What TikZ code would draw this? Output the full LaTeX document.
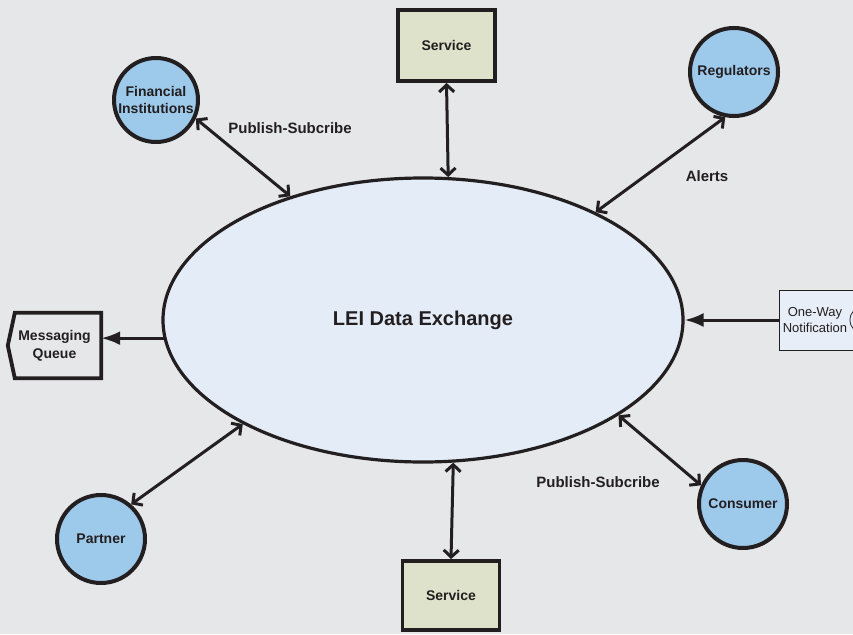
\documentclass[tikz,border=0pt]{standalone}
\usepackage{fontspec}
\setmainfont{Liberation Sans}
\usetikzlibrary{arrows.meta,positioning,shapes,calc}
\definecolor{bggrey}{HTML}{E6E7E8}
\definecolor{inkc}{HTML}{231F20}
\definecolor{hubfill}{HTML}{E4ECF7}
\definecolor{partyfill}{HTML}{9DC9EB}
\definecolor{svcfill}{HTML}{DEE2CA}
\definecolor{owfill}{HTML}{E8EEF8}
\tikzset{
	hub/.style = {ellipse, draw=inkc, line width=3.2pt, fill=hubfill, minimum width=520pt, minimum height=284pt, inner sep=0pt, text=inkc, font=\bfseries\fontsize{20}{24}\selectfont}, % the big oval in the middle
	party/.style = {circle, draw=inkc, line width=4pt, fill=partyfill, inner sep=0pt, minimum size=88pt, align=center, text=inkc, font=\bfseries\fontsize{14}{17}\selectfont},
	svc/.style = {rectangle, draw=inkc, line width=3.8pt, fill=svcfill, minimum width=97pt, minimum height=71pt, text=inkc, font=\bfseries\fontsize{14}{17}\selectfont},
	queue/.style = {rectangle, inner sep=0pt, minimum width=93pt, minimum height=65pt, align=center, text=inkc, font=\bfseries\fontsize{14}{18}\selectfont},
	owbox/.style = {rectangle, draw=inkc, line width=0.8pt, fill=owfill, minimum width=110pt, minimum height=60pt},
	both/.style = {{Straight Barb[length=7pt,width=15pt]}-{Straight Barb[length=7pt,width=15pt]}, draw=inkc, line width=3pt}, % two way edge
	one/.style = {-{Latex[length=19pt,width=14pt]}, draw=inkc, line width=3pt},
	lbl/.style = {text=inkc, font=\bfseries\fontsize{15}{18}\selectfont}
}

\begin{document}
\begin{tikzpicture}[x=1pt,y=-1pt]
	\useasboundingbox (0,0) rectangle (853,634);
	\fill[bggrey] (0,0) rectangle (853,634);
	\clip (0,0) rectangle (853,634);
	\node[hub] (lei) at (423,320) {LEI Data Exchange};
	\node[party] (fi) at (156,100) [minimum size=84pt] {Financial\\Institutions};
	\node[party] (reg) at (734,72) {Regulators};
	\node[party] (con) at (743,504) {Consumer};
	\node[party] (par) at (101,539) {Partner};
	\node[svc] (srv1) at (446.5,45.5) {Service};
	\node[svc] (srv2) at (451,595.5) [minimum height=69pt] {Service};
	\node[queue] (mq) at (54.5,345.5) {Messaging\\Queue};
	\draw[inkc, line width=3.8pt, line join=miter] ([xshift=7pt]mq.north west) -- (mq.north east) -- (mq.south east) -- ([xshift=7pt]mq.south west) -- (mq.west) -- cycle;
	\node[owbox] (ow) at (834,320) [label={[name=owtxt, xshift=-19pt, align=center, text=inkc, font=\fontsize{13}{16}\selectfont]center:One-Way\\Notification}] {};
	\draw[inkc, line width=0.8pt] ([xshift=30pt]ow.center) circle[radius=14pt];
	% labels on the edges
	\node[lbl] (pub1) at (290,128) {Publish-Subcribe};
	\node[lbl] (alrt) at (707,176) {Alerts};
	\node[lbl] (pub2) at (598,482) {Publish-Subcribe};
	% edges
	\draw[both] (fi.-25) -- (lei.137);
	\draw[both] (srv1.south) -- (lei.80.5);
	\draw[both] (reg.-101) -- (lei.32);
	\draw[both] (par.49) -- (lei.210.5);
	\draw[both] (lei.-78.4) -- (srv2.north);
	\draw[both] (lei.-26) -- (con.156);
	\draw[one] (lei.184) -- (lei.184 -| mq.east);
	\draw[one] (ow.west) -- (lei.east);
\end{tikzpicture}
\end{document}
